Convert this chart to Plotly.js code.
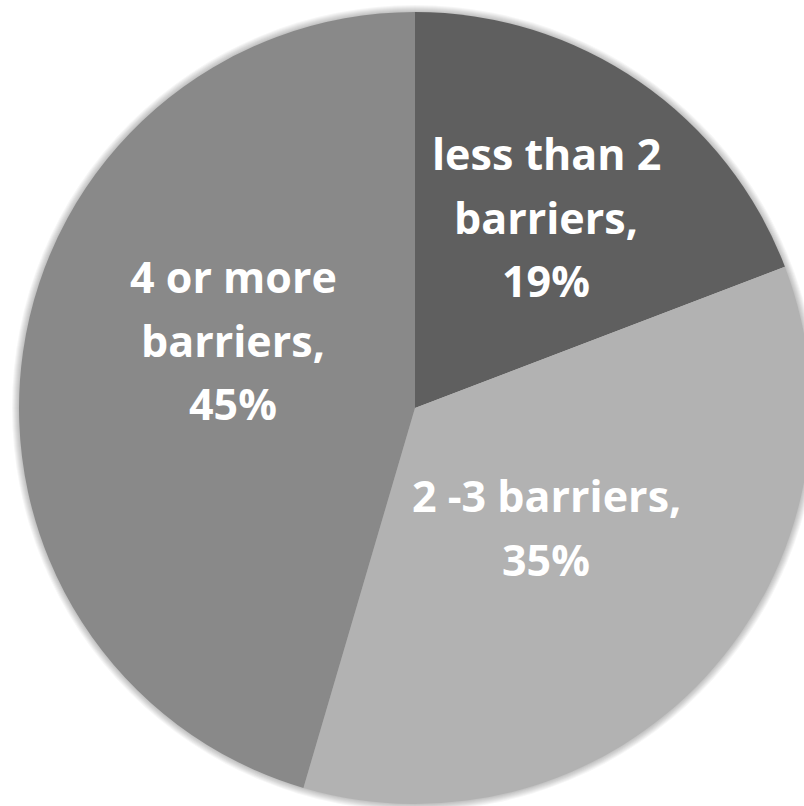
<!DOCTYPE html>
<html>
<head>
<meta charset="utf-8">
<script src="https://cdn.plot.ly/plotly-3.0.1.min.js"></script>
<style>
html, body { margin: 0; padding: 0; overflow: hidden; background: #ffffff; }
#chart { width: 830px; height: 806px; }
</style>
</head>
<body>
<div id="chart"></div>
<script>
// ---- data ----
const categories = ["less than 2 barriers", "2 -3 barriers", "4 or more barriers"];
const values = [19, 35, 45];
const colors = ["#5f5f5f", "#b2b2b2", "#898989"];
// wrapped label text (category part), percent line appended from values
const categoryLines = [["less than 2", "barriers,"], ["2 -3 barriers,"], ["4 or more", "barriers,"]];

// ---- layout constants (pixels) ----
const W = 830, H = 806;
const M = { l: 19, r: 19, t: 12, b: 2 };
const PW = W - M.l - M.r, PH = H - M.t - M.b;
// label anchor: center x and first baseline y, in pixels
const labelPos = [[546, 169], [546, 511], [233, 292]];
const FS = 43;
const LINE = 63.5;
const BASE_OFF = 0.36 * FS;

function px2x(px) { return (px - M.l) / PW; }
function py2y(py) { return 1 - (py - M.t) / PH; }

const annotations = [];
categories.forEach((c, i) => {
  const lines = categoryLines[i].concat([values[i] + "%"]);
  lines.forEach((ln, k) => {
    annotations.push({
      xref: "paper", yref: "paper",
      x: px2x(labelPos[i][0]),
      y: py2y(labelPos[i][1] + k * LINE - BASE_OFF),
      xanchor: "center", yanchor: "middle",
      text: ln, showarrow: false,
      font: { family: "'Open Sans', sans-serif", size: FS, color: "#ffffff", weight: "bold" }
    });
  });
});

// soft shadow rings
const shapes = [];
for (let k = 7; k >= 1; k--) {
  const d = k / PW;
  shapes.push({
    type: "circle", xref: "paper", yref: "paper", layer: "below",
    x0: -d, x1: 1 + d, y0: -d, y1: 1 + d,
    fillcolor: "rgba(0,0,0,0.035)", line: { width: 0 }
  });
}

const trace = {
  type: "pie",
  labels: categories,
  values: values,
  sort: false,
  direction: "clockwise",
  rotation: 0,
  marker: { colors: colors, line: { width: 0 } },
  textinfo: "none",
  hoverinfo: "label+percent",
  showlegend: false,
  domain: { x: [0, 1], y: [0, 1] }
};

const layout = {
  width: W, height: H,
  margin: M,
  paper_bgcolor: "#ffffff",
  plot_bgcolor: "#ffffff",
  showlegend: false,
  annotations: annotations,
  shapes: shapes
};

Plotly.newPlot("chart", [trace], layout, { displayModeBar: false, staticPlot: true });
</script>
</body>
</html>
